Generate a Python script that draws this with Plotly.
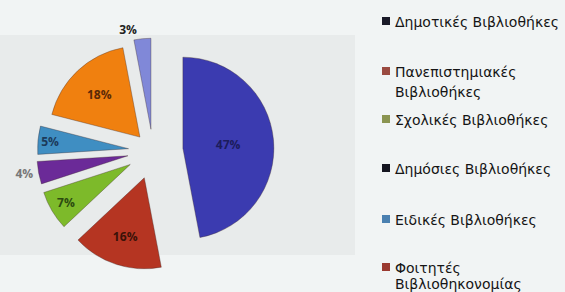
import plotly.graph_objects as go

# ---- data ----
labels = ["Δημοτικές Βιβλιοθήκες", "Πανεπιστημιακές Βιβλιοθήκες", "Σχολικές Βιβλιοθήκες",
          "Δημόσιες Βιβλιοθήκες", "Ειδικές Βιβλιοθήκες", "Φοιτητές Βιβλιοθηκονομίας", "Άλλες"]
values = [47, 16, 7, 4, 5, 18, 3]
pulls = [0.33, 0.31, 0.29, 0.28, 0.27, 0.21, 0.24]
slice_colors = ["#3b3bb0", "#b53522", "#7dba2a", "#6b2a98", "#3f8ec2", "#f0800f", "#8088d8"]
text_colors = ["#1c1c5c", "#3a1208", "#2c4a10", "#777777", "#1c3a5a", "#5a2a08", "#222222"]
text_positions = ["inside", "inside", "inside", "outside", "inside", "inside", "outside"]

legend_labels = ["Δημοτικές Βιβλιοθήκες", "Πανεπιστημιακές<br>Βιβλιοθήκες", "Σχολικές Βιβλιοθήκες",
                 "Δημόσιες Βιβλιοθήκες", "Ειδικές Βιβλιοθήκες", "Φοιτητές<br>Βιβλιοθηκονομίας"]
legend_colors = ["#1a1a28", "#9a4a40", "#8a9450", "#151520", "#4a80b0", "#9a3a30"]
legend_rows_px = [21, 71, 119, 168, 219, 267]
legend_line_gap_px = [0, 20, 0, 0, 0, 16]

W, H = 565, 292
CX, CY, HALF = 153, 151, 121  # pie box centre / half-size in pixels

fig = go.Figure(go.Pie(
    labels=labels,
    values=values,
    pull=pulls,
    sort=False,
    direction="clockwise",
    rotation=0,
    marker=dict(colors=slice_colors, line=dict(color="rgba(60,40,40,0.35)", width=1)),
    texttemplate="%{percent:.0%}",
    textposition=text_positions,
    insidetextorientation="horizontal",
    textfont=dict(family="Open Sans", size=13, color=text_colors, weight="bold"),
    showlegend=False,
    domain=dict(x=[(CX - HALF) / W, (CX + HALF) / W], y=[1 - (CY + HALF) / H, 1 - (CY - HALF) / H]),
    hoverinfo="label+percent",
))

shapes = [
    dict(type="rect", xref="paper", yref="paper", x0=0, x1=355 / W, y0=1 - 255 / H, y1=1 - 35 / H,
         fillcolor="#e8ebeb", line=dict(width=0), layer="below"),
]
annotations = []
for lab, col, ypx, gap in zip(legend_labels, legend_colors, legend_rows_px, legend_line_gap_px):
    shapes.append(dict(type="rect", xref="paper", yref="paper",
                       x0=382 / W, x1=390 / W, y0=1 - (ypx + 4) / H, y1=1 - (ypx - 4) / H,
                       fillcolor=col, line=dict(width=0)))
    for i, line in enumerate(lab.split("<br>")):
        annotations.append(dict(xref="paper", yref="paper", x=393 / W, y=1 - (ypx + 1 + i * gap) / H,
                                xanchor="left", yanchor="middle", align="left", showarrow=False,
                                text=line, font=dict(family="DejaVu Sans", size=14, color="#151515")))

fig.update_layout(
    width=W, height=H,
    margin=dict(l=0, r=0, t=0, b=0, pad=0, autoexpand=False),
    paper_bgcolor="#f1f4f4",
    plot_bgcolor="#f1f4f4",
    shapes=shapes,
    annotations=annotations,
    uniformtext=dict(minsize=12, mode="show"),
)

fig.write_html("out.html", config={"displayModeBar": False},
               post_script="document.body.style.margin='0';")
